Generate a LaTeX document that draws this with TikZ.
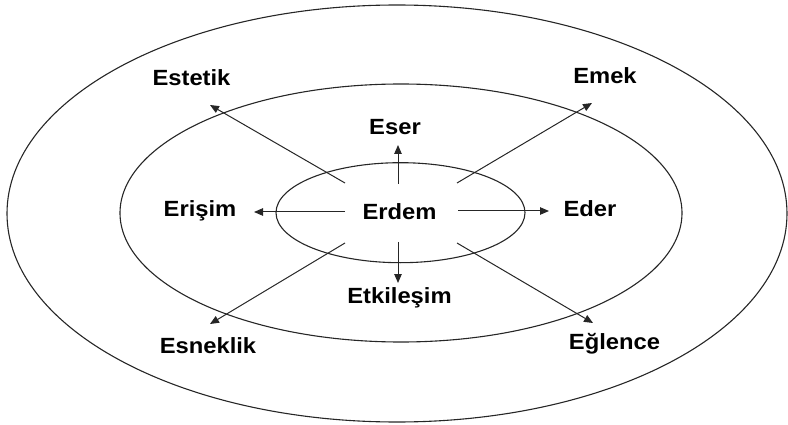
\documentclass[tikz,border=0pt]{standalone}
\usepackage{fontspec}
\setmainfont{Liberation Sans}[FakeStretch=1.08]
\usetikzlibrary{arrows.meta}
\begin{document}
\begin{tikzpicture}[x=1pt,y=-1pt,
  ring/.style={draw=black!85,line width=1.1pt},
  word/.style={anchor=base,inner sep=0pt,font=\fontsize{22}{22}\selectfont\bfseries},
  link/.style={draw=black!85,line width=1pt,-{Triangle[length=9pt,width=7.5pt]}}]
\useasboundingbox (0,0) rectangle (788,425);
% three nested rings
\draw[ring] (397,213.5) ellipse [x radius=390,y radius=208.5];
\draw[ring] (401,213) ellipse [x radius=281,y radius=129];
\draw[ring] (400.5,212.7) ellipse [x radius=124.5,y radius=50];
% labels
\node[word] (erdem) at (399.5,219) {Erdem};
\node[word] (eser) at (395,135) {Eser};
\node[word] (etkilesim) at (399.5,303) {Etkileşim};
\node[word] (erisim) at (200,217) {Erişim};
\node[word] (eder) at (590,217) {Eder};
\node[word] (estetik) at (191.5,86) {Estetik};
\node[word] (emek) at (605,84) {Emek};
\node[word] (esneklik) at (208,353) {Esneklik};
\node[word] (eglence) at (614.5,349) {Eğlence};
% arrow end points
\coordinate (sN) at (398,184);  \coordinate (tN) at (398,145);
\coordinate (sS) at (398,242);  \coordinate (tS) at (398,283);
\coordinate (sW) at (345,212);  \coordinate (tW) at (254,212);
\coordinate (sE) at (458,211);  \coordinate (tE) at (549,211);
\coordinate (sNW) at (345,183); \coordinate (tNW) at (210,105);
\coordinate (sNE) at (457,183); \coordinate (tNE) at (592,103);
\coordinate (sSW) at (345,243); \coordinate (tSW) at (210,324);
\coordinate (sSE) at (457,243); \coordinate (tSE) at (593,323);
% arrows
\draw[link] (sN) -- (tN);
\draw[link] (sS) -- (tS);
\draw[link] (sW) -- (tW);
\draw[link] (sE) -- (tE);
\draw[link] (sNW) -- (tNW);
\draw[link] (sNE) -- (tNE);
\draw[link] (sSW) -- (tSW);
\draw[link] (sSE) -- (tSE);
\end{tikzpicture}
\end{document}
